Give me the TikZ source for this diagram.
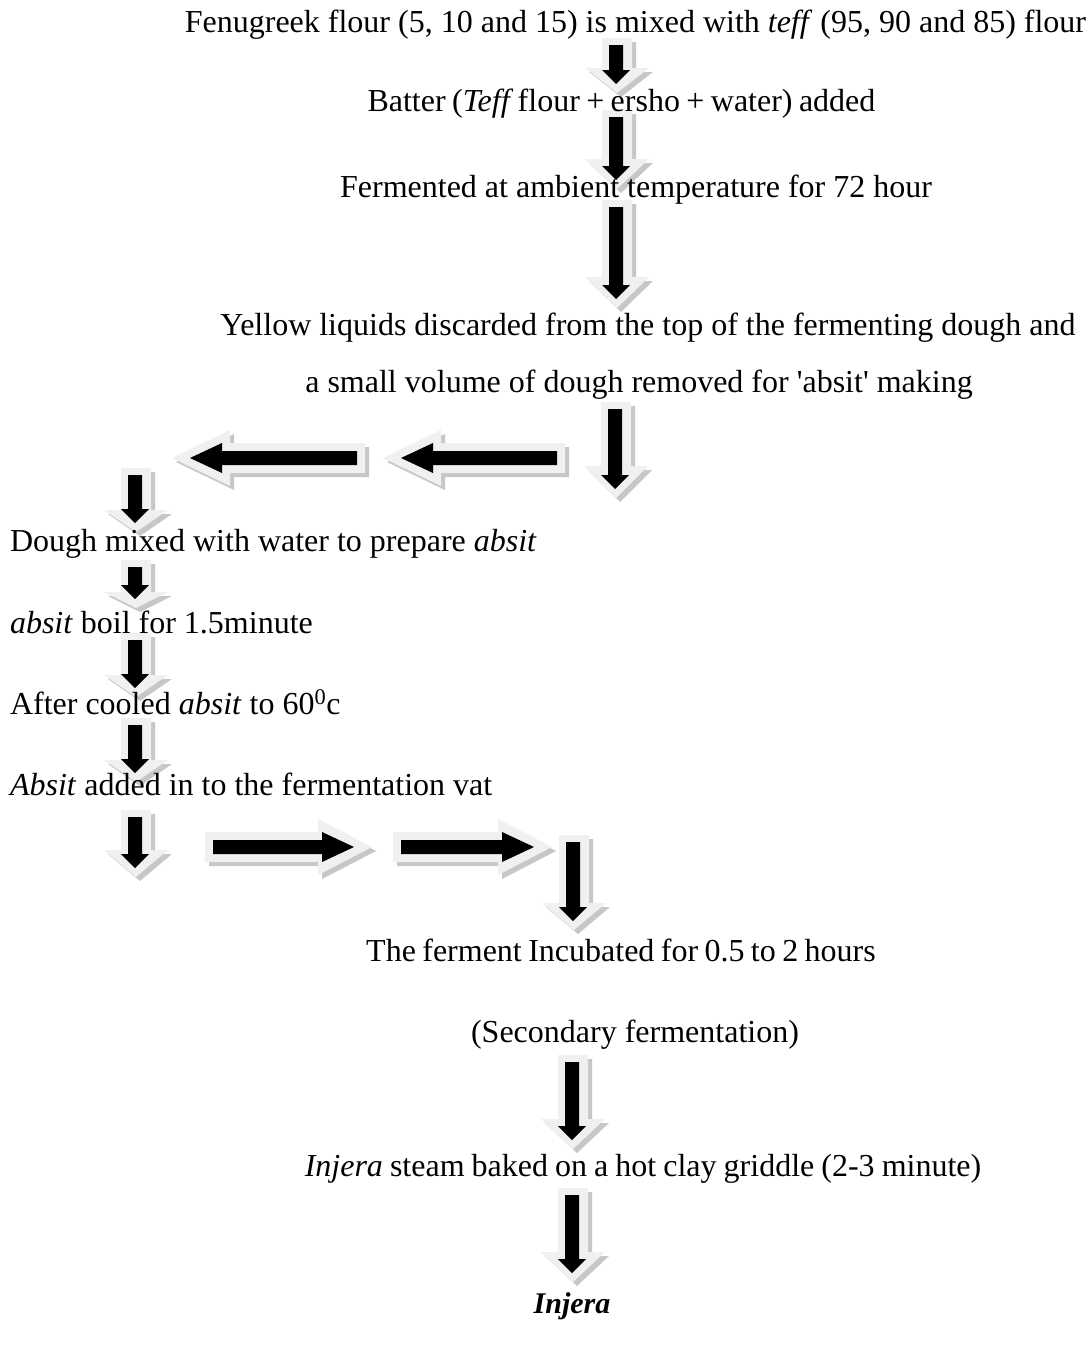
\documentclass[tikz,border=0pt]{standalone}
\usepackage{fontspec}
\setmainfont{Liberation Serif}
\definecolor{arlight}{gray}{0.94}
\definecolor{arshadow}{gray}{0.78}
\tikzset{
  txt/.style={inner sep=0pt, outer sep=0pt, font=\fontsize{32}{38}\selectfont},
  cline/.style={txt, anchor=base},
  lline/.style={txt, anchor=base west},
}
% vertical (down) block arrow: centre x, top y, tip y, head length
\newcommand\DArr[4]{%
  \begin{scope}[shift={(#1,#2)}]
    \pgfmathsetmacro\arLen{#3-#2}%
    \pgfmathsetmacro\arBase{#3-#2-#4}%
    \pgfmathsetmacro\arTipB{#3-#2-9}%
    \pgfmathsetmacro\arBaseB{#3-#2-9-14}%
    \fill[arshadow,shift={(4,4)}] (-15,0) -- (15,0) -- (15,\arBase) -- (32,\arBase) -- (0,\arLen) -- (-32,\arBase) -- (-15,\arBase) -- cycle;
    \fill[arlight] (-15,0) -- (15,0) -- (15,\arBase) -- (32,\arBase) -- (0,\arLen) -- (-32,\arBase) -- (-15,\arBase) -- cycle;
    \fill[black] (-8,7) -- (6,7) -- (6,\arBaseB) -- (13,\arBaseB) -- (-1,\arTipB) -- (-15,\arBaseB) -- (-8,\arBaseB) -- cycle;
  \end{scope}}
% horizontal block arrow: centre y, tail x, length, head length, direction (1 right, -1 left)
\newcommand\HArr[5]{%
  \pgfmathsetmacro\arLen{#3}%
  \pgfmathsetmacro\arBase{#3-#4}%
  \pgfmathsetmacro\arTipB{#3-18}%
  \pgfmathsetmacro\arBaseB{#3-50}%
  \begin{scope}[shift={(#2,#1)}]
    \fill[arshadow,shift={(4,4)},xscale=#5] (0,-15) -- (0,15) -- (\arBase,15) -- (\arBase,28) -- (\arLen,0) -- (\arBase,-28) -- (\arBase,-15) -- cycle;
    \begin{scope}[xscale=#5]
    \fill[arlight] (0,-15) -- (0,15) -- (\arBase,15) -- (\arBase,28) -- (\arLen,0) -- (\arBase,-28) -- (\arBase,-15) -- cycle;
    \fill[black] (8,-7) -- (8,7) -- (\arBaseB,7) -- (\arBaseB,15) -- (\arTipB,0) -- (\arBaseB,-15) -- (\arBaseB,-7) -- cycle;
    \end{scope}
  \end{scope}}
\begin{document}
\begin{tikzpicture}[x=1pt,y=-1pt]
\useasboundingbox (0,0) rectangle (1090,1349);
\fill[white] (0,0) rectangle (1090,1349);
% arrows
\DArr{617}{38}{93}{25}
\DArr{617}{110}{189}{30}
\DArr{617}{200}{308}{31}
\DArr{616}{402}{498}{32}
\HArr{458}{565}{182}{58}{-1}
\HArr{458}{365}{193}{58}{-1}
\DArr{136}{468}{532}{22}
\DArr{136}{560}{608}{16}
\DArr{136}{633}{697}{22}
\DArr{136}{718}{782}{22}
\DArr{136}{810}{877}{27}
\HArr{847}{205}{167}{54}{1}
\HArr{847}{393}{159}{54}{1}
\DArr{574}{835}{930}{27}
\DArr{573}{1055}{1149}{30}
\DArr{573}{1188}{1282}{30}
% texts
\node[cline] (t1) at (635.5,32) {Fenugreek flour (5, 10 and 15) is mixed with \textit{teff} (95, 90 and 85) flour};
\node[cline] (t2) at (621.5,111) {\spaceskip=0.2em\relax Batter (\textit{Teff}\kern-2pt\ flour + ersho + water) added};
\node[cline] (t3) at (636,197) {Fermented at ambient temperature for 72 hour};
\node[cline] (t4) at (648,335) {Yellow liquids discarded from the top of the fermenting dough and};
\node[cline] (t5) at (639,392) {a small volume of dough removed for \textquotesingle absit\textquotesingle\ making};
\node[lline] (t6) at (10,551) {Dough mixed with water to prepare \textit{absit}};
\node[lline] (t7) at (10,633) {\textit{absit} boil for 1.5minute};
\node[lline] (t8) at (10,714) {After cooled \textit{absit} to 60\textsuperscript{0}c};
\node[lline] (t9) at (10,795) {\textit{Absit} added in to the fermentation vat};
\node[cline] (t10) at (621,961) {\spaceskip=0.2em\relax The ferment Incubated for 0.5 to 2 hours};
\node[cline] (t11) at (635,1042) {(Secondary fermentation)};
\node[cline] (t12) at (643,1176) {\spaceskip=0.22em\relax \textit{Injera} steam baked on a hot clay griddle (2-3 minute)};
\node[cline] (t13) at (572,1313) {\fontsize{30}{36}\selectfont\textbf{\textit{Injera}}};
\end{tikzpicture}
\end{document}
